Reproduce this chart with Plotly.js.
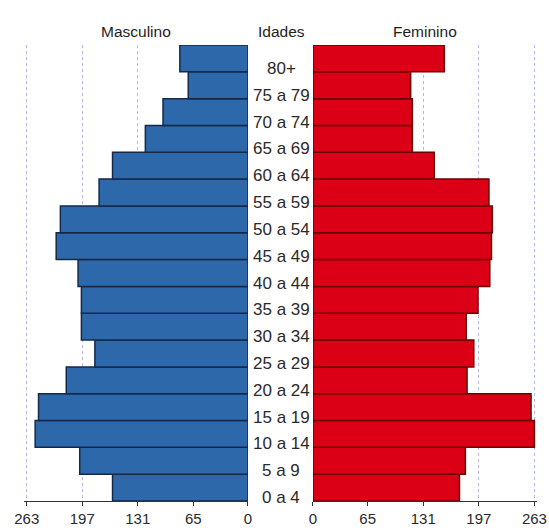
<!DOCTYPE html>
<html>
<head>
<meta charset="utf-8">
<script src="https://cdn.plot.ly/plotly-3.0.1.min.js"></script>
<style>
  html, body { margin: 0; padding: 0; background: #ffffff; }
  #chart { width: 549px; height: 528px; }
</style>
</head>
<body>
<div id="chart"></div>
<script>
// Age groups, youngest first (bottom of the pyramid)
const ageGroups = ["0 a 4", "5 a 9", "10 a 14", "15 a 19", "20 a 24", "25 a 29", "30 a 34",
  "35 a 39", "40 a 44", "45 a 49", "50 a 54", "55 a 59", "60 a 64", "65 a 69",
  "70 a 74", "75 a 79", "80+"];
const masculino = [161, 200, 253, 249, 216, 182, 198, 198, 202, 228, 223, 177, 161, 122, 101, 71, 81];
const feminino  = [174, 181, 263, 259, 183, 191, 182, 196, 210, 212, 213, 209, 144, 118, 118, 116, 156];
const tickValues = [263, 197, 131, 65, 0];
const tickLabels = ["263", "197", "131", "65", "0"];
const headers = ["Masculino", "Idades", "Feminino"];

const labelFont = { family: "Liberation Sans, Arial, sans-serif", size: 17, color: "#2a2a2a" };
const tickFont  = { family: "Liberation Sans, Arial, sans-serif", size: 15, color: "#2a2a2a" };
const headFont  = { family: "Liberation Sans, Arial, sans-serif", size: 15.5, color: "#1e1e1e" };

const traces = [
  {
    type: "bar", orientation: "h", name: headers[0],
    y: ageGroups, x: masculino, xaxis: "x", yaxis: "y",
    marker: { color: "#2d68ab", line: { color: "#14284a", width: 1.5 } },
    hoverinfo: "skip"
  },
  {
    type: "bar", orientation: "h", name: headers[2],
    y: ageGroups, x: feminino, xaxis: "x2", yaxis: "y2",
    marker: { color: "#dc0016", line: { color: "#6a0000", width: 1.5 } },
    hoverinfo: "skip"
  }
];

const axisCommon = {
  tickvals: tickValues, ticktext: tickLabels,
  showgrid: true, gridcolor: "#b4b4ee", griddash: "dot", gridwidth: 1,
  zeroline: false, showline: true, linecolor: "#333333", linewidth: 1,
  ticks: "outside", ticklen: 4, tickcolor: "#333333", tickfont: tickFont,
  fixedrange: true
};

const yCommon = {
  type: "category", categoryorder: "array", categoryarray: ageGroups,
  range: [-0.5, ageGroups.length - 0.5],
  showticklabels: false, showgrid: false, zeroline: false, showline: false, ticks: "",
  fixedrange: true
};

const annotations = ageGroups.map(g => ({
  xref: "paper", yref: "y", x: 0.512, y: g, text: g, showarrow: false,
  xanchor: "center", yanchor: "middle", yshift: -10, font: labelFont
}));
const headX = [0.2486, 0.512, 0.7742];
headers.forEach((h, i) => annotations.push({
  xref: "paper", yref: "paper", x: headX[i], y: 1.03, text: h, showarrow: false,
  xanchor: "center", yanchor: "middle", font: headFont
}));

const layout = {
  width: 549, height: 528,
  margin: { l: 0, r: 0, t: 45, b: 27, pad: 0 },
  paper_bgcolor: "#ffffff", plot_bgcolor: "#ffffff",
  showlegend: false, bargap: 0,
  xaxis: Object.assign({}, axisCommon, { domain: [0.0441, 0.4517], range: [266, 0], anchor: "y" }),
  xaxis2: Object.assign({}, axisCommon, { domain: [0.5701, 0.978], range: [0, 266], anchor: "y2" }),
  yaxis: Object.assign({}, yCommon, { anchor: "x" }),
  yaxis2: Object.assign({}, yCommon, { anchor: "x2" }),
  annotations: annotations
};

Plotly.newPlot("chart", traces, layout, { staticPlot: true, displayModeBar: false });
</script>
</body>
</html>
